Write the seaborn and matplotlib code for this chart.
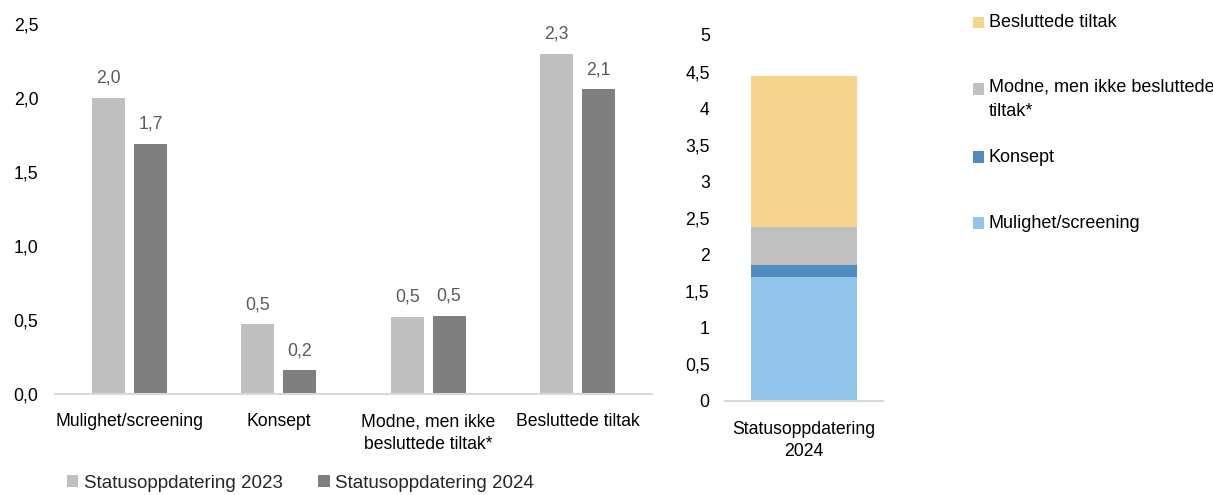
import numpy as np
import pandas as pd
import matplotlib
matplotlib.use("Agg")
import matplotlib.pyplot as plt
import seaborn as sns
from matplotlib.patches import Patch, Rectangle
from matplotlib.ticker import FuncFormatter, FixedLocator

# ---------------- data ----------------
categories = ["Mulighet/screening", "Konsept", "Modne, men ikke\nbesluttede tiltak*", "Besluttede tiltak"]
series = ["Statusoppdatering 2023", "Statusoppdatering 2024"]
values_2023 = [2.00, 0.47, 0.52, 2.30]
values_2024 = [1.69, 0.16, 0.53, 2.06]
stack_category = ["Statusoppdatering\n2024"]
stack_labels = ["Mulighet/screening", "Konsept", "Modne, men ikke besluttede\ntiltak*", "Besluttede tiltak"]
left_yticks = [0.0, 0.5, 1.0, 1.5, 2.0, 2.5]
right_yticks = [0, 0.5, 1, 1.5, 2, 2.5, 3, 3.5, 4, 4.5, 5]

bar_colors = ["#BFBFBF", "#7F7F7F"]
stack_colors = ["#92C5EB", "#4F8CC0", "#C0C0C0", "#F5D48C"]

W, H = 1213, 495
sns.set_theme(style="white")
plt.rcParams["font.family"] = ["Liberation Sans", "DejaVu Sans"]

fig = plt.figure(figsize=(W / 100, H / 100), dpi=100)

TICK_FS = 12.7
AXIS_COLOR = "#D9D9D9"


def comma1(v, pos=None):
    return f"{v:.1f}".replace(".", ",")


def commag(v, pos=None):
    return f"{v:g}".replace(".", ",")


# ---------------- left grouped bar chart ----------------
ax1 = fig.add_axes([55 / W, 1 - 394 / H, 597 / W, 370 / H])
df = pd.DataFrame({
    "category": categories * 2,
    "series": [series[0]] * len(categories) + [series[1]] * len(categories),
    "value": values_2023 + values_2024,
})
sns.barplot(data=df, x="category", y="value", hue="series", order=categories,
            hue_order=series, palette=dict(zip(series, bar_colors)),
            width=0.56, gap=0.21, saturation=1, errorbar=None, legend=False,
            linewidth=0, ax=ax1)
ax1.set_xlim(-0.5, 3.5)
ax1.set_ylim(0, 2.5)
ax1.yaxis.set_major_locator(FixedLocator(left_yticks))
ax1.yaxis.set_major_formatter(FuncFormatter(comma1))
ax1.set_xlabel("")
ax1.set_ylabel("")
for c, vals in zip(ax1.containers, [values_2023, values_2024]):
    ax1.bar_label(c, labels=[comma1(v) for v in vals], padding=8,
                  color="#595959", fontsize=TICK_FS)
ax1.tick_params(axis="y", length=0, pad=12, labelsize=TICK_FS, labelcolor="#000000")
ax1.tick_params(axis="x", length=0, pad=14, labelsize=TICK_FS, labelcolor="#000000")
for t in ax1.get_xticklabels():
    t.set_linespacing(1.45)
for s in ["left", "right", "top"]:
    ax1.spines[s].set_visible(False)
ax1.spines["bottom"].set_color(AXIS_COLOR)
ax1.spines["bottom"].set_linewidth(1.5)

fig.legend([Patch(facecolor=c, edgecolor="none") for c in bar_colors], series,
           loc="center left", bbox_to_anchor=(67 / W, 1 - 483 / H), ncol=2,
           frameon=False, fontsize=13.5, handlelength=0.6, handleheight=0.6,
           handletextpad=0.3, columnspacing=1.9, borderpad=0, borderaxespad=0)

# ---------------- right stacked bar ----------------
ax2 = fig.add_axes([725 / W, 1 - 400.5 / H, 158 / W, 365.5 / H])
cum = np.cumsum(values_2024)
for i in reversed(range(len(cum))):
    sns.barplot(x=stack_category, y=[cum[i]], color=stack_colors[i], width=0.67,
                saturation=1, errorbar=None, linewidth=0, ax=ax2)
ax2.set_xlim(-0.5, 0.5)
ax2.set_ylim(0, 5)
ax2.yaxis.set_major_locator(FixedLocator(right_yticks))
ax2.yaxis.set_major_formatter(FuncFormatter(commag))
ax2.tick_params(axis="y", length=0, pad=11, labelsize=TICK_FS, labelcolor="#000000")
ax2.tick_params(axis="x", length=0, pad=14.5, labelsize=TICK_FS, labelcolor="#000000")
for t in ax2.get_xticklabels():
    t.set_linespacing(1.45)
ax2.set_xlabel("")
ax2.set_ylabel("")
for s in ["left", "right", "top"]:
    ax2.spines[s].set_visible(False)
ax2.spines["bottom"].set_color(AXIS_COLOR)
ax2.spines["bottom"].set_linewidth(1.5)

# ---------------- right legend ----------------
legend_y = [223, 157, 89, 22.7]  # pixel centre of first line, per stack entry
for lab, col, yc in zip(stack_labels, stack_colors, legend_y):
    fig.patches.append(Rectangle((973 / W, 1 - (yc + 5.5) / H), 11 / W, 11 / H,
                                 transform=fig.transFigure, facecolor=col,
                                 edgecolor="none"))
    if "\n" in lab:
        fig.text(989 / W, 1 - (yc - 11) / H, lab, ha="left", va="top",
                 fontsize=13, color="#000000", linespacing=1.6)
    else:
        fig.text(989 / W, 1 - yc / H, lab, ha="left", va="center",
                 fontsize=13, color="#000000")

fig.savefig("out.png", dpi=100)
